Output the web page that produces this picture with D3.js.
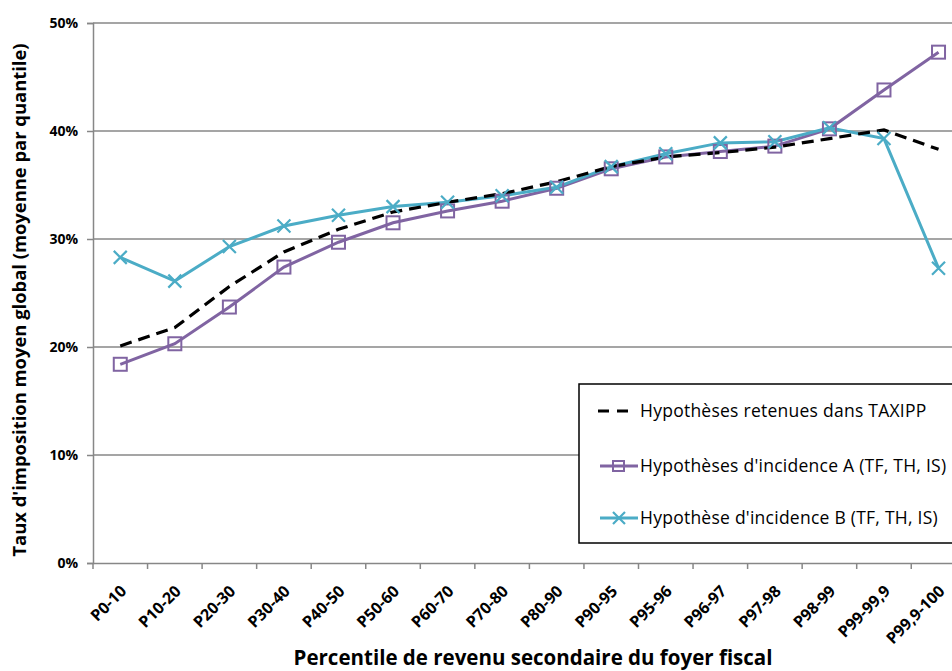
<!DOCTYPE html>
<html><head><meta charset="utf-8">
<script src="https://cdn.jsdelivr.net/npm/d3@7"></script>
<style>body{margin:0;background:#fff}svg{display:block}text{font-family:"Open Sans",sans-serif}</style>
</head><body><svg id="c" width="952" height="671"></svg>
<script>
const categories = ["P0-10","P10-20","P20-30","P30-40","P40-50","P50-60","P60-70","P70-80","P80-90","P90-95","P95-96","P96-97","P97-98","P98-99","P99-99,9","P99,9-100"];
const taxipp = [20.1,21.8,25.6,28.8,30.9,32.5,33.4,34.2,35.3,36.7,37.6,38.0,38.5,39.3,40.1,38.3];
const hypA = [18.4,20.3,23.7,27.4,29.7,31.5,32.6,33.5,34.7,36.5,37.6,38.1,38.6,40.2,43.8,47.3];
const hypB = [28.3,26.1,29.3,31.2,32.2,33.0,33.4,34.0,34.8,36.7,37.9,38.9,39.0,40.3,39.3,27.3];
const yTicks = [0,10,20,30,40,50];
const seriesNames = ["Hypothèses retenues dans TAXIPP","Hypothèses d'incidence A (TF, TH, IS)","Hypothèse d'incidence B (TF, TH, IS)"];

const svg = d3.select("#c");
const L = 93, R = 965.8, T = 23, B = 563;
const x = d3.scaleBand().domain(categories).range([L, R]);
const y = d3.scaleLinear().domain([0,50]).range([B, T]);
const grid = "#878787";

// gridlines
svg.append("g").selectAll("line").data(yTicks.filter(d=>d>0)).join("line")
  .attr("x1", L).attr("x2", 952).attr("y1", d=>y(d)).attr("y2", d=>y(d))
  .attr("stroke", grid).attr("stroke-width", 1.5);

// y axis
const ya = svg.append("g").attr("transform", `translate(${L},0)`)
  .call(d3.axisLeft(y).tickValues(yTicks).tickSize(6).tickFormat(d=>d+"%"));
ya.select(".domain").attr("stroke", grid).attr("stroke-width", 1.5);
ya.selectAll(".tick line").attr("stroke", grid).attr("stroke-width", 1.5);
ya.selectAll(".tick text").attr("font-size", 14).attr("font-weight", "bold").attr("fill", "#000").attr("x", -15).attr("font-family","Open Sans");

// x axis
const xa = svg.append("g").attr("transform", `translate(0,${B})`)
  .call(d3.axisBottom(x).tickSize(0).tickFormat(""));
xa.select(".domain").attr("stroke", grid).attr("stroke-width", 1.5);
xa.selectAll(".tick").remove();
const bounds = categories.map((c,i)=>x(c));
svg.append("g").selectAll("line").data(bounds).join("line")
  .attr("x1", d=>d).attr("x2", d=>d).attr("y1", B).attr("y2", B+6)
  .attr("stroke", grid).attr("stroke-width", 1.5);
svg.append("g").selectAll("text").data(categories).join("text")
  .attr("transform", d=>`translate(${x(d)+x.bandwidth()/2-1},${B+21}) rotate(-45)`)
  .attr("text-anchor", "end").attr("dy", "0.72em")
  .attr("font-size", 16).attr("font-weight", "bold").text(d=>d);

// titles
svg.append("text").attr("x", 533).attr("y", 665).attr("text-anchor", "middle")
  .attr("font-size", 20.5).attr("font-weight", "bold").text("Percentile de revenu secondaire du foyer fiscal");
svg.append("text").attr("transform", `translate(26,${300}) rotate(-90)`).attr("text-anchor", "middle")
  .attr("font-size", 18.4).attr("font-weight", "bold").text("Taux d'imposition moyen global (moyenne par quantile)");

const cx = d => x(d) + x.bandwidth()/2;
const line = d3.line().x((d,i)=>cx(categories[i])).y(d=>y(d));
const purple = "#8064A2", cyan = "#4BACC6";

svg.append("path").datum(hypA).attr("d", line).attr("fill","none").attr("stroke",purple).attr("stroke-width",3);
svg.append("path").datum(hypB).attr("d", line).attr("fill","none").attr("stroke",cyan).attr("stroke-width",3);
svg.append("path").datum(taxipp).attr("d", line).attr("fill","none").attr("stroke","#000").attr("stroke-width",3.2).attr("stroke-dasharray","12,7");

// markers
svg.append("g").selectAll("rect").data(hypA).join("rect")
  .attr("x",(d,i)=>cx(categories[i])-6.5).attr("y",d=>y(d)-6.5).attr("width",13).attr("height",13)
  .attr("fill","none").attr("stroke",purple).attr("stroke-width",2);
svg.append("g").selectAll("path").data(hypB).join("path")
  .attr("d",(d,i)=>{const a=cx(categories[i]), b=y(d), s=6.5; return `M${a-s},${b-s}L${a+s},${b+s}M${a-s},${b+s}L${a+s},${b-s}`;})
  .attr("stroke",cyan).attr("stroke-width",2.2).attr("fill","none");

// legend
const lg = svg.append("g");
lg.append("rect").attr("x",579).attr("y",384).attr("width",390).attr("height",159).attr("fill","#fff").attr("stroke","#000").attr("stroke-width",1.5);
const rows = [411,466,518];
lg.append("line").attr("x1",598).attr("x2",636).attr("y1",rows[0]).attr("y2",rows[0]).attr("stroke","#000").attr("stroke-width",3.2).attr("stroke-dasharray","11,8");
lg.append("line").attr("x1",600).attr("x2",638).attr("y1",rows[1]).attr("y2",rows[1]).attr("stroke",purple).attr("stroke-width",3);
lg.append("rect").attr("x",613).attr("y",rows[1]-5).attr("width",11).attr("height",10).attr("fill","none").attr("stroke",purple).attr("stroke-width",2);
lg.append("line").attr("x1",600).attr("x2",638).attr("y1",rows[2]).attr("y2",rows[2]).attr("stroke",cyan).attr("stroke-width",3);
lg.append("path").attr("d",`M613,${rows[2]-6}L625,${rows[2]+6}M613,${rows[2]+6}L625,${rows[2]-6}`).attr("stroke",cyan).attr("stroke-width",2.2);
lg.selectAll("text.l").data(seriesNames).join("text").attr("class","l")
  .attr("x",640).attr("y",(d,i)=>rows[i]).attr("dy","0.35em").attr("font-size",17.5).attr("letter-spacing",0.25).text(d=>d);
</script></body></html>
